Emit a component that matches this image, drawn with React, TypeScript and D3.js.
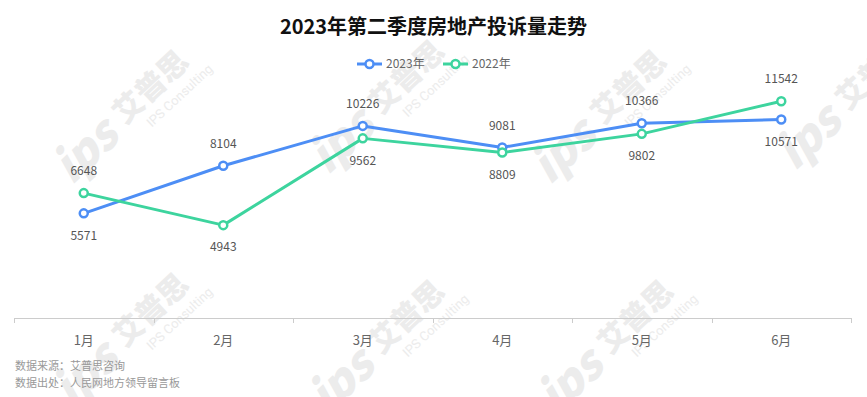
import React, { useEffect, useRef } from 'react'
import * as d3 from 'd3'

const months = ['1月', '2月', '3月', '4月', '5月', '6月']
const values2023 = [5571, 8104, 10226, 9081, 10366, 10571]
const values2022 = [6648, 4943, 9562, 8809, 9802, 11542]
// label side per point: true = above
const above2023 = [false, true, true, true, true, false]
const above2022 = [true, false, false, false, false, true]

const seriesNames = ['2023年', '2022年']
const colours = ['#4d8ef5', '#3dd49e']

const footnotes = ['数据来源：艾普思咨询', '数据出处：人民网地方领导留言板']
const watermarkSpots = [
  [127, 107], [383, 97], [605, 107], [850, 93],
  [127, 330], [383, 337], [612, 337],
]

const W = 867
const H = 397
const margin = { top: 55, right: 16, bottom: 79, left: 14 }
const font = '"Noto Sans CJK SC", "Noto Sans", sans-serif'

export default function App() {
  const ref = useRef<SVGSVGElement>(null)

  useEffect(() => {
    const svg = d3.select(ref.current)
    svg.selectAll('*').remove()

    const x = d3.scaleBand().domain(months).range([margin.left, W - margin.right]).padding(0)
    const y = d3.scaleLinear().domain([0, 14000]).range([H - margin.bottom, margin.top])
    const cx = (m: string) => x(m)! + x.bandwidth() / 2

    // watermark
    const wm = svg.append('g').attr('fill', '#ececec').attr('font-family', font)
    watermarkSpots.forEach(([px, py]) => {
      const g = wm.append('g').attr('transform', `translate(${px},${py}) rotate(-43)`)
      g.append('text').attr('x', -60).attr('y', 20).attr('text-anchor', 'middle')
        .attr('font-size', 46).attr('font-weight', 900).attr('font-style', 'italic').text('ips')
      g.append('text').attr('x', -14).attr('y', 12).attr('font-size', 30).attr('font-weight', 900).text('艾普思')
      g.append('text').attr('x', 4).attr('y', 32).attr('font-size', 13).attr('font-family', 'Roboto, sans-serif').text('IPS Consulting')
    })

    // title
    svg.append('text')
      .attr('x', W / 2).attr('y', 34)
      .attr('text-anchor', 'middle')
      .attr('font-family', font).attr('font-size', 20).attr('font-weight', 'bold')
      .attr('fill', '#111')
      .text('2023年第二季度房地产投诉量走势')

    // legend
    const legend = svg.append('g').attr('font-family', font).attr('font-size', 12)
    const legendX = [357, 443]
    seriesNames.forEach((name, i) => {
      const g = legend.append('g').attr('transform', `translate(${legendX[i]},64)`)
      g.append('line').attr('x1', 0).attr('x2', 25).attr('stroke', colours[i]).attr('stroke-width', 3)
      g.append('circle').attr('cx', 12.5).attr('r', 4).attr('fill', '#fff').attr('stroke', colours[i]).attr('stroke-width', 2.5)
      g.append('text').attr('x', 29).attr('dy', '0.35em').attr('fill', '#666').text(name)
    })

    // x axis
    const axisY = y(0)
    const axis = svg.append('g')
    axis.append('line').attr('x1', margin.left).attr('x2', W - margin.right)
      .attr('y1', axisY + 0.5).attr('y2', axisY + 0.5).attr('stroke', '#ccc')
    const edges = months.map(m => x(m)!).concat([x(months[months.length - 1])! + x.bandwidth()])
    axis.selectAll('.tick').data(edges).enter().append('line')
      .attr('x1', d => Math.round(d) + 0.5).attr('x2', d => Math.round(d) + 0.5)
      .attr('y1', axisY).attr('y2', axisY + 5).attr('stroke', '#ccc')
    axis.selectAll('.lbl').data(months).enter().append('text')
      .attr('x', d => cx(d)).attr('y', axisY + 22)
      .attr('dy', '0.35em')
      .attr('text-anchor', 'middle')
      .attr('font-family', font).attr('font-size', 13).attr('fill', '#666')
      .text(d => d)

    // lines
    const series = [values2023, values2022]
    const sides = [above2023, above2022]
    const line = d3.line<number>().x((_, i) => cx(months[i])).y(d => y(d))
    series.forEach((vals, s) => {
      svg.append('path').datum(vals).attr('d', line)
        .attr('fill', 'none').attr('stroke', colours[s]).attr('stroke-width', 3)
        .attr('stroke-linejoin', 'round')
    })
    series.forEach((vals, s) => {
      const g = svg.append('g')
      g.selectAll('circle').data(vals).enter().append('circle')
        .attr('cx', (_, i) => cx(months[i])).attr('cy', d => y(d)).attr('r', 4)
        .attr('fill', '#fff').attr('stroke', colours[s]).attr('stroke-width', 2.5)
      g.selectAll('text').data(vals).enter().append('text')
        .attr('x', (_, i) => cx(months[i]))
        .attr('y', (d, i) => y(d) + (sides[s][i] ? -22 : 22))
        .attr('dy', '0.35em')
        .attr('text-anchor', 'middle')
        .attr('font-family', font).attr('font-size', 12).attr('fill', '#555')
        .text(d => d)
    })

    // footnotes
    svg.selectAll('.foot').data(footnotes).enter().append('text')
      .attr('x', 15).attr('y', (_, i) => 366 + i * 17).attr('dy', '0.35em')
      .attr('font-family', font).attr('font-size', 11).attr('fill', '#999')
      .text(d => d)
  }, [])

  return (
    <svg ref={ref} width={W} height={H}
      style={{ position: 'absolute', left: 0, top: 0, background: '#fff' }} />
  )
}
